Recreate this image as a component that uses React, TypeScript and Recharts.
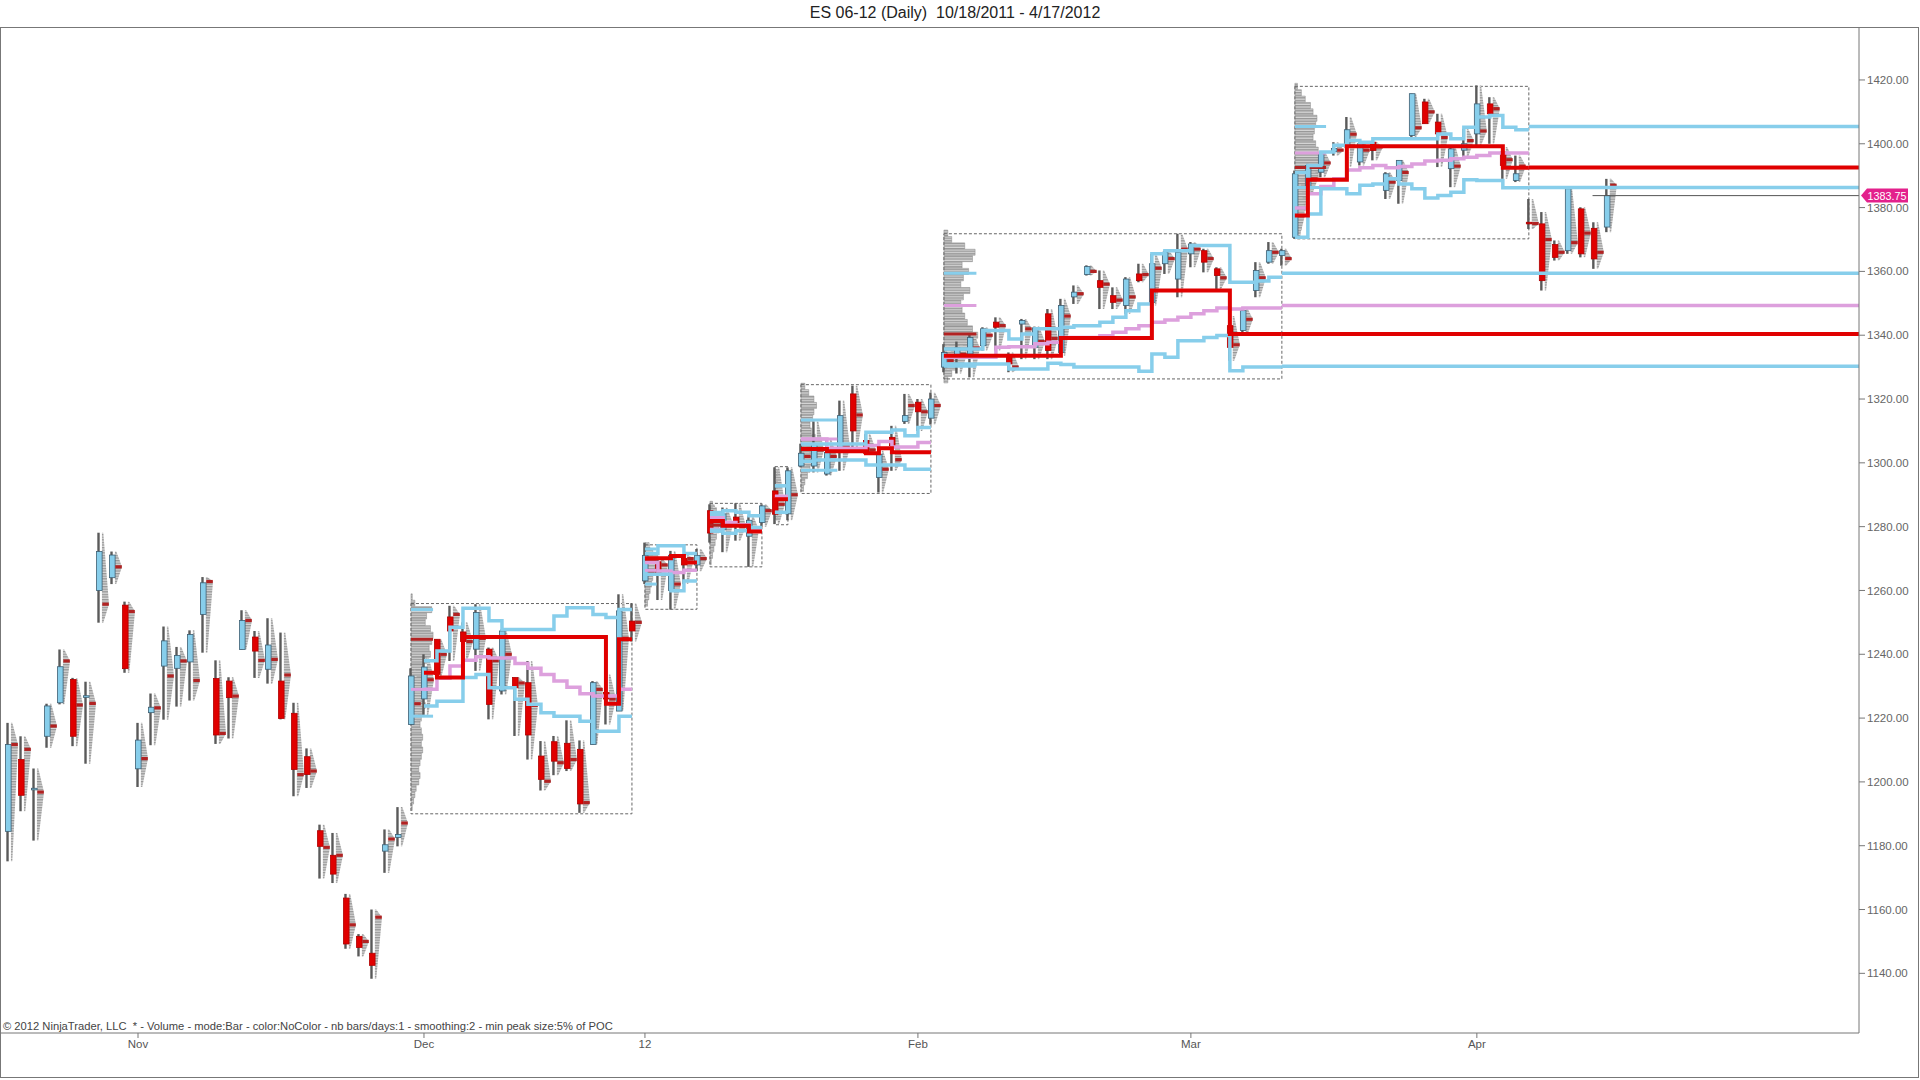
import React from 'react';
import { ComposedChart, Bar, Line, XAxis, YAxis, ReferenceArea, ReferenceLine, ReferenceDot } from 'recharts';

// ---- daily bars (index 0 = 10/18/2011) ----
const opens = [
  1184.5, 1207, 1197.5, 1214.3, 1224.8, 1232.1, 1226.5, 1260, 1264, 1255.4,
  1204.1, 1221.7, 1236.3, 1235.6, 1237.6, 1252.5, 1232.4, 1231.6, 1241.5, 1245.4,
  1235.3, 1231.6, 1221.5, 1207.9, 1184.7, 1177, 1163.6, 1151.6, 1146.3, 1178.3,
  1182.6, 1218, 1226, 1244.7, 1251.7, 1247, 1241.6, 1241.6, 1228.5, 1232.7,
  1231.1, 1208.1, 1212.6, 1212.1, 1210.2, 1211.7, 1228, 1222.2, 1250.4, 1263,
  1269, 1260, 1270, 1268, 1285, 1279, 1283, 1277, 1281.3, 1291.2,
  1284, 1299, 1299, 1296.5, 1304.3, 1321.6, 1307, 1295.4, 1308, 1313,
  1319, 1314, 1330, 1333, 1334.1, 1336.7, 1344.1, 1334, 1343.5, 1336.2,
  1346.7, 1334.6, 1352, 1359, 1357.1, 1352.4, 1349.3, 1359.2, 1350.3, 1362.4,
  1357.6, 1365.5, 1366.5, 1360.8, 1343, 1341.5, 1354, 1362.9, 1365, 1370.7,
  1386.4, 1391.1, 1397.5, 1399, 1394.3, 1400.5, 1385.4, 1388.5, 1402.6, 1413.1,
  1406.8, 1392.2, 1398, 1403.1, 1412.5, 1397.4, 1388.5, 1375.4, 1374.9, 1368.4,
  1366.5, 1379.6, 1373.5, 1373.9,
];
const highs = [
  1218.5, 1214.3, 1204.2, 1224.5, 1241.5, 1232.6, 1231.4, 1278.1, 1272.2, 1256.5,
  1218.5, 1227.7, 1248.7, 1242.3, 1247.5, 1264.2, 1238.1, 1232.8, 1253.8, 1247.3,
  1251.3, 1246.8, 1224.8, 1210.5, 1186.6, 1184, 1164.9, 1152.3, 1160, 1185.1,
  1192.1, 1235.6, 1240, 1244.7, 1255.2, 1250, 1255.7, 1242.1, 1247.8, 1232.7,
  1237.9, 1212.8, 1214.4, 1219.3, 1213, 1231.6, 1233.7, 1258.8, 1256, 1275,
  1270, 1272.4, 1271, 1273, 1287, 1286, 1287.3, 1283.4, 1287, 1298.6,
  1298.6, 1306, 1313, 1307.5, 1319.5, 1324.2, 1309, 1303.8, 1311.6, 1321.6,
  1320, 1322, 1337.2, 1338, 1340.4, 1342.5, 1345.6, 1334.6, 1345.1, 1342.7,
  1348.2, 1351.4, 1355.6, 1361.9, 1360.3, 1355, 1358.2, 1362.4, 1365.5, 1366.5,
  1371.8, 1369.2, 1367.1, 1361.3, 1346, 1348.7, 1362.9, 1369.2, 1367.1, 1391.6,
  1393.7, 1397.4, 1400.5, 1408.4, 1400.5, 1400.5, 1391.1, 1394.8, 1415.7, 1414.1,
  1409.4, 1399.5, 1404.7, 1418.3, 1414.6, 1399, 1396.3, 1382.7, 1378.6, 1369.7,
  1385.9, 1380.1, 1375.4, 1389,
];
const lows = [
  1175.1, 1190.8, 1181.6, 1210.7, 1224.3, 1211.2, 1205.7, 1249.9, 1262, 1234.2,
  1198.4, 1211.5, 1219.5, 1223.6, 1225.5, 1240.5, 1211.9, 1213.6, 1241.5, 1232.6,
  1230.8, 1219.6, 1195.5, 1198.1, 1169.7, 1168.3, 1147.7, 1145.3, 1138.3, 1171.5,
  1179.8, 1218, 1221, 1232.7, 1237.9, 1238, 1234.8, 1219.6, 1227.4, 1214.4,
  1207, 1197.3, 1202.1, 1203.4, 1190.3, 1211.7, 1218, 1222.2, 1244, 1262,
  1257, 1254, 1262, 1266, 1275, 1272, 1275.6, 1267.4, 1280, 1280.8,
  1282, 1298.6, 1297, 1296, 1297.5, 1303.8, 1302.8, 1290.7, 1297.5, 1312.2,
  1310, 1312, 1328.4, 1328, 1326.8, 1335.2, 1335.2, 1328.4, 1332.5, 1332.5,
  1332.5, 1333.6, 1349.8, 1358.7, 1348.2, 1348.2, 1346.7, 1356.6, 1349.3, 1359.2,
  1351.9, 1361.3, 1359.7, 1354.5, 1332, 1339.9, 1351.9, 1362.4, 1361.8, 1370.2,
  1384, 1389.5, 1396.3, 1392.7, 1393.2, 1394.8, 1382.7, 1381.2, 1402.1, 1406.3,
  1392.7, 1386.4, 1395.8, 1399.5, 1400, 1389, 1388, 1373.3, 1354, 1363.4,
  1365.5, 1364.4, 1360.8, 1372.3,
];
const closes = [
  1211.7, 1195.8, 1198, 1223.8, 1236.1, 1214.3, 1227, 1272.2, 1271.1, 1235.5,
  1213.1, 1223.4, 1244.2, 1239.6, 1246.2, 1262.4, 1214.7, 1226.4, 1250.6, 1241,
  1242.9, 1219.9, 1203.9, 1202.3, 1179.8, 1171.1, 1149.2, 1148.1, 1142.5, 1180.3,
  1183.5, 1233.2, 1236, 1233.7, 1247.3, 1244, 1253.1, 1224.3, 1247.3, 1229.5,
  1214.7, 1200.8, 1206.5, 1204.2, 1193.1, 1231.1, 1226, 1253.6, 1247.3, 1271,
  1265, 1271, 1268, 1271, 1278, 1284, 1281, 1282, 1286.5, 1283.9,
  1297.5, 1303, 1306, 1303.3, 1314.8, 1310, 1303, 1302.7, 1305.4, 1314.8,
  1316, 1320, 1334.6, 1336, 1339.3, 1342, 1342.5, 1331, 1344.6, 1342.3,
  1335.2, 1349.3, 1353.5, 1361.5, 1355, 1350.3, 1357.6, 1357.1, 1362.4, 1366,
  1366, 1368.6, 1362.9, 1358.7, 1336.2, 1347.7, 1360.3, 1366.5, 1366.5, 1390.6,
  1393.2, 1396.9, 1398.5, 1404.4, 1400, 1397.9, 1390.6, 1394.8, 1415.7, 1406.3,
  1403.1, 1398.4, 1400, 1412.5, 1409.4, 1393.2, 1390.6, 1374.9, 1357.1, 1364.4,
  1385.9, 1365.5, 1363.9, 1383.75,
];
const pocs = [
  1211.7, 1210.2, 1196.8, 1217.5, 1237.9, 1224.1, 1224.6, 1255.7, 1267.4, 1253.4,
  1207.3, 1223.2, 1233.2, 1237.9, 1231.8, 1262.8, 1215.2, 1226.9, 1250.6, 1238.1,
  1238.4, 1233.5, 1202.3, 1203.4, 1179.5, 1177, 1155.2, 1150, 1157.6, 1182.1,
  1187.1, 1224.5, 1232, 1240, 1252.5, 1244, 1245, 1238, 1240, 1231,
  1224, 1200.2, 1206, 1207, 1193.5, 1229, 1226, 1245, 1250, 1266,
  1268, 1262, 1270, 1270, 1282, 1281, 1280, 1279, 1285, 1287,
  1290, 1302, 1304, 1302, 1305, 1315, 1304, 1298, 1301, 1318,
  1316, 1318, 1332, 1334, 1336, 1340, 1343, 1330, 1342, 1338,
  1339, 1346, 1353, 1360, 1356, 1351, 1352, 1359, 1361, 1364,
  1367, 1367, 1364, 1358, 1337, 1345, 1358, 1366, 1364, 1377.5,
  1389, 1394, 1398, 1403, 1398, 1399, 1388, 1391, 1405, 1410,
  1402, 1393, 1401, 1404, 1411, 1395, 1393, 1375, 1370, 1366,
  1369, 1372, 1366, 1387,
];

// ---- x axis ticks ----
const xTickIdx = [10, 32, 49, 70, 91, 113];
const xTickLabels = ['Nov', 'Dec', '12', 'Feb', 'Mar', 'Apr'];
const yTicks = [1140, 1160, 1180, 1200, 1220, 1240, 1260, 1280, 1300, 1320, 1340, 1360, 1380, 1400, 1420];
const xMin = -0.54;
const xMax = 142.4;
const yMin = 1121.3;
const yMax = 1436.6;

// ---- composite profiles (Dec, Jan A, Jan B, Jan C, Jan D, Feb, Mar) ----
const boxStart = [31, 49, 54, 59, 61, 72, 99];
const boxEnd = [48, 53, 58, 60, 71, 98, 117];
const boxLow = [1190, 1254.1, 1267.4, 1280.6, 1290.4, 1326.3, 1370.2];
const boxHigh = [1255.9, 1274.3, 1287.3, 1298.8, 1324.5, 1371.8, 1418];
const lineStart = [32, 49, 54, 59, 61, 72, 99];

const decVah = [1238, 1241, 1248.5, 1254.4, 1254.4, 1250.5, 1247.8, 1247.8, 1247.8, 1247.8, 1252, 1254.6, 1254.6, 1252.5, 1251.5, 1254];
const decVal = [1223.8, 1225.3, 1225.3, 1232.7, 1233.7, 1229.5, 1229.5, 1225.9, 1224.3, 1221.7, 1220.6, 1220.6, 1219, 1215.9, 1215.9, 1220.6];
const decPoc = [1234.2, 1232.7, 1232.7, 1245.4, 1245.4, 1245.4, 1245.4, 1245.4, 1245.4, 1245.4, 1245.4, 1245.4, 1245.4, 1245.4, 1224.5, 1244.7];
const decVwap = [1229, 1232.5, 1236.3, 1238.1, 1239.2, 1238.8, 1238.8, 1237.1, 1235.6, 1233.7, 1231.6, 1229.7, 1227.6, 1226.9, 1226.9, 1229];

const aVah = [1271.6, 1274, 1274, 1271.6];
const aVal = [1265.1, 1265.1, 1259.9, 1263];
const aPoc = [1270.1, 1270.1, 1270.8, 1268.8];
const aVwap = [1268.8, 1266.1, 1265.6, 1266.3];

const bVah = [1283.9, 1285, 1284.5, 1283.4];
const bVal = [1278.9, 1277.9, 1278.7, 1279.7];
const bPoc = [1281.8, 1280.3, 1280.3, 1278.5];
const bVwap = [1282.9, 1281.3, 1280.6, 1279.2];

const cVah = [1292.8];
const cVal = [1284.5];
const cPoc = [1288.6];
const cVwap = [1289.5];

const dVah = [1305.9, 1305.9, 1305.9, 1305.9, 1305.9, 1309.6, 1309.6, 1310.3, 1308.5, 1311.1];
const dVal = [1300.5, 1300.9, 1300.9, 1300.9, 1300.9, 1299.3, 1299.3, 1299.3, 1298, 1298];
const dPoc = [1304.3, 1304.3, 1303.6, 1303.6, 1303.6, 1303, 1304.6, 1303.3, 1303.3, 1303.3];
const dVwap = [1307.5, 1307.5, 1304.6, 1304.6, 1304.6, 1305.4, 1306.7, 1305, 1305, 1306.4];

const febVah = [1335.7, 1335.7, 1335.7, 1341.5, 1341.5, 1338.8, 1340.4, 1342, 1342, 1342.5, 1343, 1343, 1344.1, 1345.6, 1347.7, 1349.8, 1365.5, 1366.5, 1366.5, 1368.1, 1368.1, 1368.1, 1356.6, 1356.6, 1357, 1358.2];
const febVal = [1331, 1331, 1331, 1331, 1331, 1329.4, 1329.4, 1329.4, 1331.2, 1330.8, 1330, 1330, 1330, 1330, 1330, 1328.7, 1334.1, 1333.1, 1338.3, 1338.3, 1339.3, 1339.9, 1328.9, 1330, 1330, 1330];
const febPoc = [1333.6, 1333.6, 1333.6, 1333.6, 1333.6, 1333.6, 1333.6, 1333.6, 1333.6, 1339.1, 1339.1, 1339.1, 1339.1, 1339.1, 1339.1, 1339.1, 1354, 1354, 1354, 1354, 1354, 1354, 1340.4, 1340.4, 1340.4, 1340.4];
const febVwap = [1333.1, 1333.1, 1333.1, 1333.1, 1336.2, 1336.4, 1336.4, 1337.3, 1337.8, 1339.3, 1339.3, 1339.3, 1339.8, 1340.9, 1342, 1343, 1344.1, 1344.8, 1345.6, 1346.7, 1347.7, 1348.5, 1348.2, 1348.5, 1348.5, 1348.5];

const marVah = [1391, 1393.2, 1397.4, 1399.5, 1401, 1400.5, 1401.6, 1401.6, 1401.6, 1401.6, 1401.6, 1403.1, 1401.6, 1405.2, 1408.4, 1408.9, 1405.2, 1404.4];
const marVal = [1370.7, 1378, 1385.9, 1385.9, 1384.3, 1387, 1387.4, 1389, 1387.4, 1385.9, 1383, 1383.8, 1384.8, 1388.7, 1388.5, 1388.5, 1386.2, 1386.2];
const marPoc = [1377.5, 1388.7, 1388.7, 1388.7, 1399.2, 1399.2, 1399.2, 1399.2, 1399.2, 1399.2, 1399.2, 1399.2, 1399.2, 1399.2, 1399.2, 1399.2, 1392.5, 1392.5];
const marVwap = [1379.9, 1384.3, 1386.6, 1389, 1391.8, 1392.5, 1393.2, 1392.5, 1392.9, 1393.7, 1394.6, 1394.8, 1395.3, 1395.8, 1396.3, 1397.1, 1397.1, 1397.1];

const finalVah = [1254, 1273, 1284.5, 1292.8, 1313.4, 1359.4, 1405.4];
const finalVal = [1220.6, 1262, 1278.5, 1284.5, 1297.7, 1330.3, 1386.3];
const finalPoc = [1244.7, 1269.5, 1280.5, 1288.6, 1304.3, 1340.4, 1392.6];
const finalVwap = [1229, 1266.3, 1279.2, 1289.5, 1307.5, 1349.3, 1397.1];
const markW = [1.7, 0.9, 0.9, 0.6, 2.8, 2.5, 2.4];
const extendVah = [false, false, false, false, false, true, true];
const extendVal = [false, false, false, false, false, true, true];
const extendPoc = [false, false, false, false, false, true, true];
const extendVwap = [false, false, false, false, false, true, false];

// profile widths (in bars), top level down, 2-point steps
const profTop = [1258, 1274, 1287, 1297, 1324, 1372, 1418];
const decProf = [0.1, 0.3, 1.6, 1.2, 1.1, 1.5, 1.7, 1.6, 1.4, 1.5, 1.2, 1.0, 1.2, 0.9, 0.8, 0.9, 1.0, 1.1, 0.9, 0.8, 0.7, 0.8, 0.9, 0.8, 0.9, 0.8, 0.7, 0.6, 0.7, 0.6, 0.4, 0.3, 0.2, 0.1];
const aProf = [0.3, 0.6, 1.0, 0.9, 0.8, 0.6, 0.5, 0.4, 0.3, 0.2];
const bProf = [0.2, 0.5, 0.8, 0.9, 0.7, 0.5, 0.4, 0.3, 0.2, 0.1];
const cProf = [0.2, 0.3, 0.4, 0.5, 0.6, 0.4, 0.3, 0.2];
const dProf = [0.3, 0.6, 1.0, 1.2, 1.0, 0.9, 0.7, 0.8, 1.1, 1.3, 1.6, 1.4, 1.0, 0.7, 0.5, 0.3, 0.2];
const febProf = [0.3, 0.6, 1.6, 2.4, 2.2, 1.4, 1.9, 1.5, 1.3, 2.0, 1.5, 1.3, 1.4, 1.6, 1.8, 2.2, 2.6, 2.3, 2.0, 1.7, 1.3, 1.0, 0.6, 0.3];
const marProf = [0.2, 0.5, 0.8, 1.2, 1.4, 1.7, 1.6, 1.5, 1.4, 1.6, 1.8, 2.0, 2.1, 2.3, 1.8, 1.5, 1.2, 1.0, 0.9, 0.8, 0.7, 0.6, 0.5, 0.4];

const lastPriceFrom = 121.9;

const BLUE = '#87CEEB';
const RED = '#E00000';
const PINK = '#DDA0DD';
const DARKRED = '#B22222';

const vahSeries = [decVah, aVah, bVah, cVah, dVah, febVah, marVah];
const valSeries = [decVal, aVal, bVal, cVal, dVal, febVal, marVal];
const pocSeries = [decPoc, aPoc, bPoc, cPoc, dPoc, febPoc, marPoc];
const vwapSeries = [decVwap, aVwap, bVwap, cVwap, dVwap, febVwap, marVwap];
const profiles = [decProf, aProf, bProf, cProf, dProf, febProf, marProf];

const metrics = [
  { key: 'vwap', series: vwapSeries, finals: finalVwap, ext: extendVwap, color: PINK, w: 3.5 },
  { key: 'vah', series: vahSeries, finals: finalVah, ext: extendVah, color: BLUE, w: 3.5 },
  { key: 'val', series: valSeries, finals: finalVal, ext: extendVal, color: BLUE, w: 3.5 },
  { key: 'poc', series: pocSeries, finals: finalPoc, ext: extendPoc, color: RED, w: 4 },
];

const rows: any[] = opens.map((o, i) => ({
  x: i, o, h: highs[i], l: lows[i], c: closes[i], p: pocs[i], range: [lows[i], highs[i]],
}));
metrics.forEach((m) => {
  m.series.forEach((vals, k) => {
    const key = `${m.key}${k}`;
    vals.forEach((v, j) => {
      rows[lineStart[k] + j][key] = v;
    });
    rows[boxEnd[k]][key] = vals[vals.length - 1];
  });
});

const Candle = (props: any) => {
  const { x, y, width, height, payload, index } = props;
  if (!payload) return null;
  const { o, h, l, c, p } = payload;
  const top = Math.min(y, y + height);
  const hgt = Math.abs(height);
  const py = (v: number) => (h === l ? top : top + ((h - v) / (h - l)) * hgt);
  const cx = x + width / 2;
  const up = c >= o;
  const bTop = py(Math.max(o, c));
  const bBot = py(Math.min(o, c));
  const pp = py(p);
  const bot = top + hgt;
  const pts = `${cx + 3.4},${top} ${cx + 4.8},${top} ${cx + 10.5},${pp} ${cx + 4.8},${bot} ${cx + 3.4},${bot}`;
  return (
    <g>
      {index === 0 && (
        <defs>
          <pattern id="hatch" patternUnits="userSpaceOnUse" width="8" height="2.6">
            <rect x="0" y="0" width="8" height="2.6" fill="#d6d6d6" />
            <rect x="0" y="0" width="8" height="1.3" fill="#979797" />
          </pattern>
        </defs>
      )}
      <polygon points={pts} fill="url(#hatch)" />
      <line x1={cx} x2={cx} y1={top} y2={bot} stroke="#5a5a5a" strokeWidth={2.4} />
      <rect
        x={cx - 2}
        y={bTop}
        width={5.6}
        height={Math.max(1.2, bBot - bTop)}
        fill={up ? BLUE : RED}
        stroke={up ? '#3e5f73' : '#b00000'}
        strokeWidth={0.8}
      />
      <rect x={cx + 3.8} y={pp - 1.6} width={6.5} height={3.2} fill={DARKRED} />
    </g>
  );
};

const PriceBadge = (props: any) => {
  const { cx, cy } = props;
  const last = closes[closes.length - 1];
  return (
    <g>
      <polygon
        points={`${cx + 2},${cy} ${cx + 8},${cy - 7} ${cx + 49},${cy - 7} ${cx + 49},${cy + 7} ${cx + 8},${cy + 7}`}
        fill="#E3218C"
      />
      <text
        x={cx + 8.5}
        y={cy + 4}
        fill="#ffffff"
        fontSize={11}
        textLength={39}
        lengthAdjust="spacingAndGlyphs"
        fontFamily='"Liberation Sans", Arial, sans-serif'
      >
        {last.toFixed(2)}
      </text>
    </g>
  );
};

export default function App() {
  const profileAreas: any[] = [];
  profiles.forEach((prof, k) => {
    prof.forEach((w, j) => {
      const p = profTop[k] - 2 * j;
      profileAreas.push(
        <ReferenceArea
          key={`pf${k}-${j}`}
          x1={boxStart[k]}
          x2={boxStart[k] + w}
          y1={p - 0.95}
          y2={p + 0.95}
          fill="url(#hatch)"
          fillOpacity={1}
          stroke="#8a8a8a"
          strokeWidth={0.5}
        />
      );
    });
  });

  const boxes = boxStart.map((s, k) => (
    <ReferenceArea
      key={`bx${k}`}
      x1={s}
      x2={boxEnd[k]}
      y1={boxLow[k]}
      y2={boxHigh[k]}
      fill="none"
      fillOpacity={0}
      stroke="#666"
      strokeDasharray="3 2"
      strokeWidth={1}
    />
  ));

  const markers: any[] = [];
  metrics.forEach((m) => {
    m.finals.forEach((v, k) => {
      markers.push(
        <ReferenceLine
          key={`mk${m.key}${k}`}
          segment={[{ x: boxStart[k], y: v }, { x: boxStart[k] + markW[k], y: v }]}
          stroke={m.key === 'poc' ? DARKRED : m.color}
          strokeWidth={3}
        />
      );
    });
  });

  const extensions: any[] = [];
  metrics.forEach((m) => {
    m.finals.forEach((v, k) => {
      if (m.ext[k]) {
        extensions.push(
          <ReferenceLine
            key={`ex${m.key}${k}`}
            segment={[{ x: boxEnd[k], y: v }, { x: xMax, y: v }]}
            stroke={m.color}
            strokeWidth={m.w}
          />
        );
      }
    });
  });

  const lines: any[] = [];
  metrics.forEach((m) => {
    m.series.forEach((_, k) => {
      lines.push(
        <Line
          key={`ln${m.key}${k}`}
          dataKey={`${m.key}${k}`}
          type="stepAfter"
          stroke={m.color}
          strokeWidth={m.w}
          dot={false}
          activeDot={false}
          connectNulls={false}
          isAnimationActive={false}
          legendType="none"
        />
      );
    });
  });

  return (
    <div
      style={{
        position: 'absolute',
        left: 0,
        top: 0,
        width: 1920,
        height: 1080,
        background: '#fff',
        fontFamily: '"Liberation Sans", Arial, sans-serif',
      }}
    >
      <div style={{ position: 'absolute', top: 4, left: 0, width: 1910, textAlign: 'center', fontSize: 16, color: '#222' }}>
        ES 06-12 (Daily)&nbsp; 10/18/2011 - 4/17/2012
      </div>
      <div
        style={{
          position: 'absolute',
          left: 0,
          top: 27,
          width: 1917,
          height: 1049,
          border: '1px solid #777',
          boxSizing: 'content-box',
        }}
      />
      <div style={{ position: 'absolute', left: 0, top: 27 }}>
        <ComposedChart
          width={1920}
          height={1050}
          data={rows}
          margin={{ top: 0, right: 0, bottom: 0, left: 1 }}
        >
          <XAxis
            dataKey="x"
            type="number"
            domain={[xMin, xMax]}
            allowDataOverflow
            ticks={xTickIdx}
            tickFormatter={(v: number) => xTickLabels[xTickIdx.indexOf(v)] ?? ''}
            height={44}
            tickSize={5}
            tick={{ fill: '#555', fontSize: 11.5 }}
            axisLine={{ stroke: '#777' }}
            tickLine={{ stroke: '#777' }}
            interval={0}
          />
          <YAxis
            orientation="right"
            type="number"
            domain={[yMin, yMax]}
            allowDataOverflow
            ticks={yTicks}
            tickFormatter={(v: number) => v.toFixed(2)}
            width={61}
            tickSize={6}
            tick={{ fill: '#666', fontSize: 11.5 }}
            axisLine={{ stroke: '#777' }}
            tickLine={{ stroke: '#777' }}
            interval={0}
          />
          {profileAreas}
          {boxes}
          <Bar dataKey="range" barSize={6} shape={Candle} isAnimationActive={false} legendType="none" />
          {markers}
          {lines}
          {extensions}
          <ReferenceLine
            segment={[{ x: lastPriceFrom, y: closes[closes.length - 1] }, { x: xMax, y: closes[closes.length - 1] }]}
            stroke="#555"
            strokeWidth={1}
          />
          <ReferenceDot
            x={xMax}
            y={closes[closes.length - 1]}
            r={0}
            ifOverflow="visible"
            shape={PriceBadge}
          />
        </ComposedChart>
      </div>
      <div style={{ position: 'absolute', left: 3, top: 1020, fontSize: 11.2, color: '#444', whiteSpace: 'pre' }}>
        {'© 2012 NinjaTrader, LLC  * - Volume - mode:Bar - color:NoColor - nb bars/days:1 - smoothing:2 - min peak size:5% of POC'}
      </div>
    </div>
  );
}
